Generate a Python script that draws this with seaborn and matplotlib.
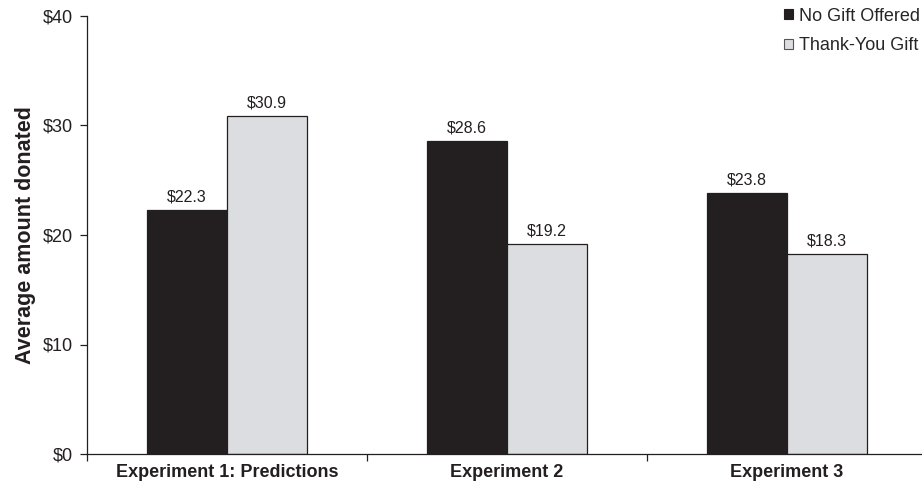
import matplotlib
matplotlib.use("Agg")
import matplotlib.pyplot as plt
import seaborn as sns
import pandas as pd

categories = ["Experiment 1: Predictions", "Experiment 2", "Experiment 3"]
series_names = ["No Gift Offered", "Thank-You Gift"]
no_gift = [22.3, 28.6, 23.8]
thank_you = [30.9, 19.2, 18.3]
y_ticks = [0, 10, 20, 30, 40]
y_tick_labels = ["$0", "$10", "$20", "$30", "$40"]

df = pd.DataFrame({
    "category": categories * 2,
    "series": [series_names[0]] * 3 + [series_names[1]] * 3,
    "value": no_gift + thank_you,
})

sns.set_theme(style="white")
plt.rcParams["font.family"] = ["Liberation Sans", "DejaVu Sans"]

fig = plt.figure(figsize=(9.22, 4.88), dpi=100)
ax = fig.add_axes([87 / 922, 34 / 488, 840 / 922, 438 / 488])

dark = "#231f20"
light = "#dcdde0"
sns.barplot(data=df, x="category", y="value", hue="series",
            palette=[dark, light], width=0.572, ax=ax,
            edgecolor=dark, linewidth=0.9, saturation=1, legend=False)

for container in ax.containers:
    ax.bar_label(container, labels=[f"${v:.1f}" for v in container.datavalues],
                 padding=4, fontsize=11.5, color="#231f20")

ax.set_xlim(-0.5, 2.5)
ax.set_ylim(0, 40)
ax.set_yticks(y_ticks)
ax.set_yticklabels(y_tick_labels, fontsize=13, color="#231f20")
ax.set_xticks([-0.5, 0.5, 1.5, 2.5])
ax.set_xticklabels([])
ax.set_xticks([0, 1, 2], minor=True)
ax.set_xticklabels(categories, minor=True, fontsize=13, fontweight="bold", color="#231f20")
ax.tick_params(axis="x", which="minor", length=0, pad=7)
ax.tick_params(axis="x", which="major", direction="out", length=5, width=0.9, color="#231f20", bottom=True)
ax.tick_params(axis="y", direction="out", length=5, width=0.9, color="#231f20", left=True, pad=5)
ax.set_xlabel("")
ax.set_ylabel("Average amount donated", fontsize=15.5, fontweight="bold", color="#231f20", labelpad=5)

for s in ["top", "right"]:
    ax.spines[s].set_visible(False)
for s in ["left", "bottom"]:
    ax.spines[s].set_color("#231f20")
    ax.spines[s].set_linewidth(0.9)

from matplotlib.patches import Patch
handles = [Patch(facecolor=dark, edgecolor=dark, linewidth=0.8),
           Patch(facecolor=light, edgecolor="#555555", linewidth=0.8)]
fig.legend(handles, series_names, loc="upper right", bbox_to_anchor=(1.0135, 1.014),
           frameon=False, fontsize=13, handlelength=0.5, handleheight=0.5,
           handletextpad=0.35, labelspacing=0.7, borderpad=0.3)

fig.savefig("out.png", dpi=100)
